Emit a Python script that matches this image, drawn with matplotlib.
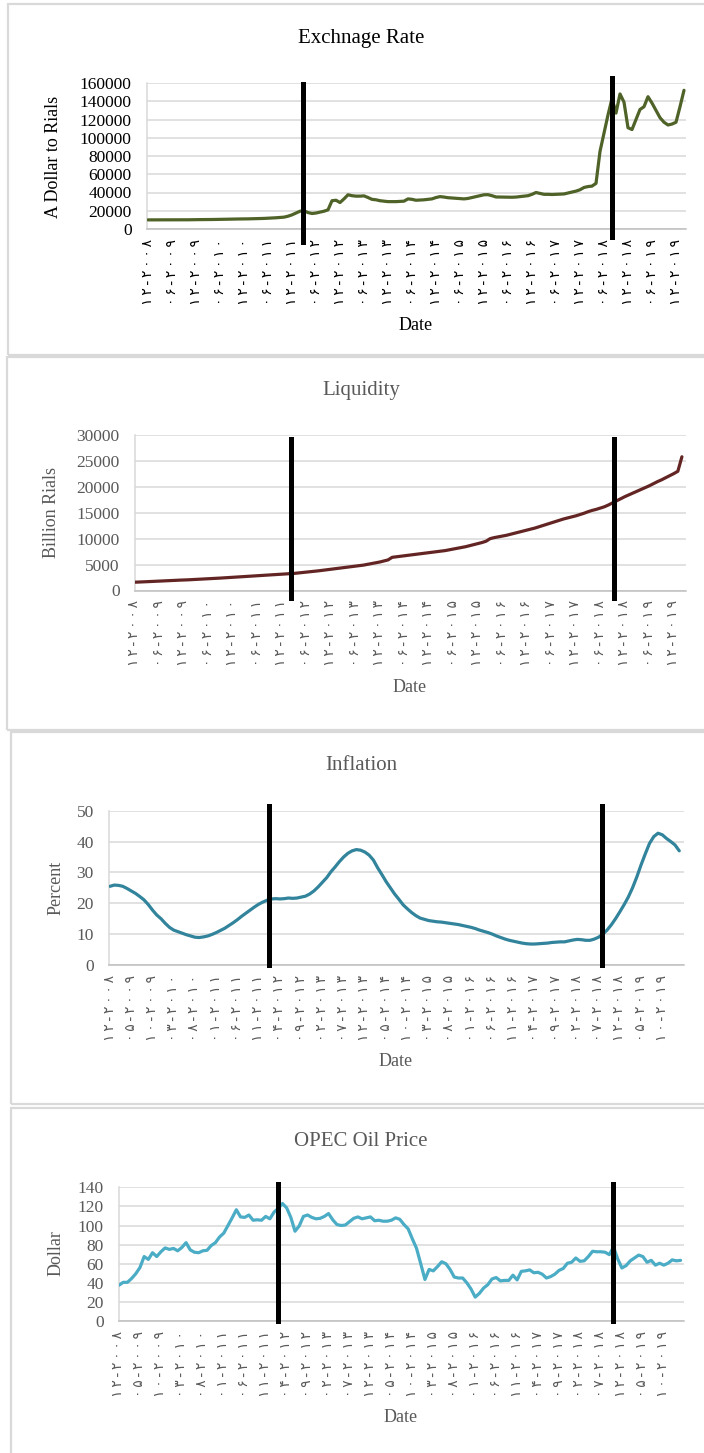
"""Four stacked Excel-style line charts: exchange rate, liquidity, inflation, oil price."""

import matplotlib

matplotlib.use("Agg")

import matplotlib.pyplot as plt
from matplotlib.patches import Rectangle

W, H = 704, 1453

# monthly observations, month 0 = 12-2008
months = list(range(135))

exchange_rate = [
    10000, 10000, 10000, 10000, 10000, 10000, 10000, 10000, 10100, 10100,
    10100, 10200, 10200, 10300, 10300, 10400, 10400, 10500, 10500, 10600,
    10700, 10800, 10900, 11000, 11000, 11100, 11200, 11300, 11400, 11600,
    11800, 12000, 12300, 12600, 13000, 14000, 15500, 17500, 19500, 20000,
    18000, 17000, 17500, 18500, 19500, 21000, 31000, 31500, 29000, 33000,
    37500, 36500, 36000, 36000, 36300, 34500, 32500, 32000, 31000, 30500,
    30000, 30000, 30000, 30200, 30500, 33000, 32500, 31500, 31700, 32000,
    32500, 33000, 34500, 35500, 35000, 34300, 34000, 33800, 33500, 33000,
    33500, 34500, 35400, 36500, 37500, 37600, 36500, 35100, 35000, 34800,
    34700, 34800, 35000, 35500, 36000, 36500, 38000, 40000, 39000, 38000,
    38000, 37800, 38000, 38200, 38400, 39500, 40500, 41500, 43000, 45500,
    46500, 47000, 50000, 85000, 105000, 125000, 143000, 127000, 148000, 139000,
    111000, 109000, 120000, 131000, 134000, 145000, 138000, 130000, 122000, 117000,
    114000, 115000, 117000, 134000, 152000,
]

liquidity = [
    1600, 1630, 1660, 1700, 1740, 1780, 1830, 1860, 1900, 1930,
    1960, 2000, 2020, 2060, 2100, 2140, 2180, 2220, 2260, 2300,
    2350, 2400, 2450, 2500, 2550, 2600, 2650, 2700, 2750, 2800,
    2850, 2900, 2950, 3000, 3050, 3100, 3150, 3200, 3250, 3300,
    3380, 3460, 3540, 3620, 3700, 3800, 3900, 4000, 4100, 4200,
    4300, 4400, 4500, 4600, 4700, 4800, 4900, 5050, 5200, 5350,
    5500, 5700, 5900, 6400, 6500, 6600, 6700, 6800, 6900, 7000,
    7100, 7200, 7300, 7400, 7500, 7600, 7700, 7850, 8000, 8150,
    8300, 8450, 8650, 8850, 9050, 9250, 9500, 10000, 10200, 10350,
    10500, 10650, 10850, 11050, 11250, 11450, 11650, 11850, 12050, 12300,
    12550, 12800, 13050, 13300, 13550, 13800, 14000, 14200, 14400, 14650,
    14900, 15200, 15450, 15650, 15900, 16150, 16500, 16900, 17300, 17700,
    18100, 18450, 18800, 19150, 19500, 19850, 20200, 20600, 21000, 21350,
    21750, 22150, 22550, 23000, 25800,
]

inflation = [
    25.5, 25.9, 25.8, 25.5, 24.8, 24.0, 23.2, 22.2, 21.1, 19.6,
    17.8, 16.2, 15.0, 13.5, 12.2, 11.3, 10.8, 10.3, 9.8, 9.4,
    9.0, 8.9, 9.1, 9.4, 9.9, 10.5, 11.2, 11.9, 12.8, 13.7,
    14.7, 15.8, 16.8, 17.8, 18.8, 19.7, 20.4, 21.0, 21.4, 21.5,
    21.4, 21.5, 21.7, 21.6, 21.7, 22.0, 22.3, 23.0, 24.0, 25.3,
    26.8, 28.3, 30.2, 31.8, 33.5, 35.0, 36.2, 37.0, 37.4, 37.2,
    36.6, 35.6, 34.0, 31.5, 29.3, 27.0, 25.0, 23.0, 21.3, 19.5,
    18.2, 17.0, 16.0, 15.2, 14.8, 14.4, 14.2, 14.0, 13.9, 13.7,
    13.5, 13.3, 13.1, 12.8, 12.5, 12.2, 11.8, 11.3, 10.9, 10.5,
    10.0, 9.4, 8.9, 8.4, 8.0, 7.7, 7.4, 7.1, 6.9, 6.8,
    6.8, 6.9, 7.0, 7.1, 7.3, 7.4, 7.5, 7.5, 7.8, 8.1,
    8.3, 8.2, 8.0, 8.0, 8.4, 9.0, 10.0, 11.3, 13.0, 15.0,
    17.2, 19.5, 22.0, 25.0, 28.5, 32.4, 36.0, 39.4, 41.6, 42.7,
    42.2, 41.0, 40.0, 38.9, 37.0,
]

oil_price = [
    37.5, 40.5, 40.5, 44.5, 49.5, 56, 67.5, 64.5, 71.5, 67.5,
    72.5, 76.5, 75, 76, 73.5, 77, 82, 74.5, 72, 71.5,
    73.5, 74, 79, 82, 88, 92, 100, 108, 116.5, 109,
    108.5, 111, 105.5, 106, 105.5, 109.5, 107, 114, 118, 123,
    118.5, 108.5, 94, 99.5, 109.5, 111, 108.5, 107, 107.5, 109.5,
    112.5, 106, 101, 100, 100.5, 104, 107.5, 109, 107, 108,
    109, 105, 105.5, 104.5, 104.5, 105.5, 108, 106.5, 101, 96.5,
    86, 76, 60, 43.5, 54, 52.5, 57, 62, 60, 54,
    46, 45, 45, 40, 33.5, 25, 29, 34.5, 38, 44,
    45.5, 42, 42.5, 42.5, 48, 43, 52, 52.5, 53.5, 50.5,
    51, 49, 45, 46.5, 49, 53, 55, 60.5, 61.5, 66,
    62.5, 63, 67.5, 73, 72.5, 72.5, 72, 69.5, 77.5, 65,
    55.5, 58, 63, 66, 69, 67.5, 61.5, 63.5, 58.5, 60.5,
    58.5, 60.5, 64, 63, 63.5,
]

ticks_6m = [
    "12-2008", "06-2009", "12-2009", "06-2010", "12-2010", "06-2011",
    "12-2011", "06-2012", "12-2012", "06-2013", "12-2013", "06-2014",
    "12-2014", "06-2015", "12-2015", "06-2016", "12-2016", "06-2017",
    "12-2017", "06-2018", "12-2018", "06-2019", "12-2019",
]
ticks_5m = [
    "12-2008", "05-2009", "10-2009", "03-2010", "08-2010", "01-2011",
    "06-2011", "11-2011", "04-2012", "09-2012", "02-2013", "07-2013",
    "12-2013", "05-2014", "10-2014", "03-2015", "08-2015", "01-2016",
    "06-2016", "11-2016", "04-2017", "09-2017", "02-2018", "07-2018",
    "12-2018", "05-2019", "10-2019",
]

PERSIAN = str.maketrans("0123456789", "۰۱۲۳۴۵۶۷۸۹")
GRID = "#d9d9d9"
FRAME = "#d9d9d9"

plt.rcParams["font.family"] = ["Liberation Serif", "DejaVu Sans"]

PANELS = [
    dict(values=exchange_rate, color="#4f6228", title="Exchnage Rate",
         ylabel="A Dollar to Rials", ymax=160000, ystep=20000,
         labels=ticks_6m, step=6, xlim=(-0.25, 134.5), text="#000000",
         axes=(147, 83, 686, 229), box=(8, 4, 720, 355),
         title_xy=(361, 39), ylabel_xy=(54, 157), xlabel_xy=(416, 325),
         events=[(38.75, -0.09, 0.99), (116, -0.055, 1.035)]),
    dict(values=liquidity, color="#632523", title="Liquidity",
         ylabel="Billion Rials", ymax=30000, ystep=5000,
         labels=ticks_6m, step=6, xlim=(0, 135), text="#595959",
         axes=(135, 435, 686, 590.5), box=(7, 357, 720, 730),
         title_xy=(361, 390), ylabel_xy=(52, 513), xlabel_xy=(410, 687),
         events=[(38.3, -0.05, 0.975), (117.3, -0.05, 0.975)]),
    dict(values=inflation, color="#31849b", title="Inflation",
         ylabel="Percent", ymax=50, ystep=10,
         labels=ticks_5m, step=5, xlim=(-0.24, 135), text="#595959",
         axes=(109, 810.7, 683.5, 965), box=(11, 732, 720, 1104),
         title_xy=(361, 766), ylabel_xy=(56, 888), xlabel_xy=(396, 1061),
         events=[(37.5, 0.0, 1.03), (115.9, 0.0, 1.03)]),
    dict(values=oil_price, color="#4bacc6", title="OPEC Oil Price",
         ylabel="Dollar", ymax=140, ystep=20,
         labels=ticks_5m, step=5, xlim=(0, 134.7), text="#595959",
         axes=(119, 1187.3, 683.5, 1321), box=(11, 1108, 720, 1480),
         title_xy=(361, 1142), ylabel_xy=(56, 1253), xlabel_xy=(401, 1417),
         events=[(38.0, 0.0, 1.025), (117.9, 0.0, 1.025)]),
]


def fx(x):
    return x / W


def fy(y):
    return 1 - y / H


def spaced(label):
    # Excel draws the rotated date labels with loose letter spacing
    return "\u2009".join(label.translate(PERSIAN))


def draw_panel(fig, p):
    l, t, r, b = p["box"]
    fig.patches.append(Rectangle((fx(l), fy(b)), fx(r - l), (b - t) / H,
                                 transform=fig.transFigure, fill=False,
                                 edgecolor=FRAME, linewidth=1.6))

    l, t, r, b = p["axes"]
    ax = fig.add_axes([fx(l), fy(b), fx(r - l), (b - t) / H])
    ax.plot(months, p["values"], color=p["color"], linewidth=2.3,
            solid_joinstyle="round", solid_capstyle="round", zorder=3)

    ax.set_xlim(*p["xlim"])
    ax.set_ylim(0, p["ymax"])
    ax.set_yticks(range(0, p["ymax"] + 1, p["ystep"]))
    ax.set_xticks([i * p["step"] for i in range(len(p["labels"]))])
    ax.set_xticklabels([spaced(s) for s in p["labels"]],
                       rotation=90, fontsize=10, color=p["text"],
                       family=["Liberation Serif", "DejaVu Sans"])
    ax.tick_params(axis="x", length=0, pad=7)
    ax.tick_params(axis="y", length=0, pad=11, labelsize=12.5, labelcolor=p["text"])

    ax.grid(True, axis="y", color=GRID, linewidth=1.1, zorder=0)
    ax.set_axisbelow(True)
    for side in ("top", "right"):
        ax.spines[side].set_visible(False)
    ax.spines["left"].set_color(GRID)
    ax.spines["left"].set_linewidth(1.1)
    ax.spines["bottom"].set_color("#bfbfbf")
    ax.spines["bottom"].set_linewidth(1.1)

    for month, y0, y1 in p["events"]:
        ax.axvline(month, ymin=y0, ymax=y1, color="black", linewidth=3.6,
                   clip_on=False, zorder=5)

    tx, ty = p["title_xy"]
    fig.text(fx(tx), fy(ty), p["title"], ha="center", va="center",
             fontsize=15, color=p["text"])
    lx, ly = p["ylabel_xy"]
    fig.text(fx(lx), fy(ly), p["ylabel"], ha="center", va="center",
             rotation=90, fontsize=13, color=p["text"])
    dx, dy = p["xlabel_xy"]
    fig.text(fx(dx), fy(dy), "Date", ha="center", va="center",
             fontsize=13, color=p["text"])


def main():
    fig = plt.figure(figsize=(W / 100, H / 100), dpi=100)
    fig.patch.set_facecolor("white")
    for p in PANELS:
        draw_panel(fig, p)
    fig.savefig("out.png", dpi=100)


if __name__ == "__main__":
    main()
